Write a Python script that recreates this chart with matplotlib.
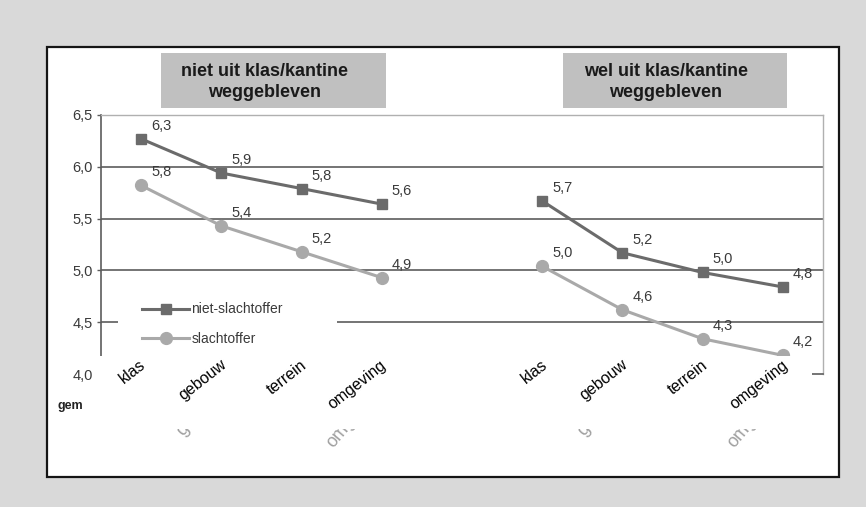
import numpy as np
import matplotlib
matplotlib.use('Agg')
import matplotlib.pyplot as plt
import matplotlib.patches as mpatches
import matplotlib.transforms as mtransforms
from matplotlib.ticker import FuncFormatter

plt.rcParams['font.family'] = ['Liberation Sans', 'DejaVu Sans']

W, H = 866, 507

CATEGORIES = ['klas', 'gebouw', 'terrein', 'omgeving']
GROUP_TITLES = ['niet uit klas/kantine\nweggebleven',
                'wel uit klas/kantine\nweggebleven']
SERIES_NAMES = ['niet-slachtoffer', 'slachtoffer']

# group 1: niet uit klas/kantine weggebleven
NIET_SLACHTOFFER_G1 = [6.27, 5.94, 5.79, 5.64]
SLACHTOFFER_G1      = [5.82, 5.43, 5.18, 4.93]
# group 2: wel uit klas/kantine weggebleven
NIET_SLACHTOFFER_G2 = [5.67, 5.17, 4.98, 4.84]
SLACHTOFFER_G2      = [5.04, 4.62, 4.34, 4.18]

Y_TICKS = [4.0, 4.5, 5.0, 5.5, 6.0, 6.5]
Y_LABEL = 'gem'

COL_NIET   = '#6b6b6b'
COL_SLACHT = '#a9a9a9'
GRID_C     = '#5c5c5c'
TEXT_C     = '#3a3a3a'


def fx(x):
    return x / W


def fy(y):
    return 1 - y / H


def comma(v):
    return f'{v:.1f}'.replace('.', ',')


fig = plt.figure(figsize=(W / 100, H / 100), dpi=100)
fig.patch.set_facecolor('#d9d9d9')

# white panel with dark border
fig.add_artist(mpatches.Rectangle((fx(47), fy(477)), fx(839) - fx(47), fy(47) - fy(477),
                                  transform=fig.transFigure, facecolor='white',
                                  edgecolor='#151515', linewidth=1.6, zorder=-5))

# grey title boxes (text sits a little left of centre, as in the scan)
for title, (x0, x1) in zip(GROUP_TITLES, [(161, 386), (563, 787)]):
    fig.add_artist(mpatches.Rectangle((fx(x0), fy(108)), fx(x1) - fx(x0), fy(53) - fy(108),
                                      transform=fig.transFigure, facecolor='#c0c0c0',
                                      edgecolor='none', zorder=-4))
    fig.text(fx((x0 + x1) / 2 - 9), fy(82), title, ha='center', va='center',
             fontsize=13, fontweight='bold', color='#1a1a1a', linespacing=1.3)

ax = fig.add_axes([fx(101), fy(374), fx(823) - fx(101), fy(115) - fy(374)])
ax.patch.set_visible(False)
ax.set_xlim(-0.5, 8.5)
ax.set_ylim(Y_TICKS[0], Y_TICKS[-1])

x_g1 = np.arange(len(CATEGORIES))
x_g2 = np.arange(len(CATEGORIES)) + len(CATEGORIES) + 1

# gridlines (top one is the light frame)
for y in Y_TICKS[1:-1]:
    ax.axhline(y, color=GRID_C, lw=1.2, zorder=1)

ln_niet = None
ln_sl = None
for xs, niet, sl in [(x_g1, NIET_SLACHTOFFER_G1, SLACHTOFFER_G1),
                     (x_g2, NIET_SLACHTOFFER_G2, SLACHTOFFER_G2)]:
    ln_niet, = ax.plot(xs, niet, color=COL_NIET, lw=2.2, marker='s', ms=7,
                       mfc=COL_NIET, mec=COL_NIET, zorder=3, clip_on=False)
    ln_sl, = ax.plot(xs, sl, color=COL_SLACHT, lw=2.2, marker='o', ms=8.5,
                     mfc=COL_SLACHT, mec=COL_SLACHT, zorder=3, clip_on=False)
    for x, v in list(zip(xs, niet)) + list(zip(xs, sl)):
        ax.annotate(comma(v), (x, v), xytext=(10, 13), textcoords='offset pixels',
                    ha='left', va='center', fontsize=10.5, color=TEXT_C, zorder=4)

# axes styling
ax.set_yticks(Y_TICKS)
ax.yaxis.set_major_formatter(FuncFormatter(lambda v, _: comma(v)))
ax.tick_params(axis='y', direction='out', length=3, width=1, color=GRID_C,
               labelsize=10.5, labelcolor=TEXT_C, pad=3)
ax.set_xticks([])
ax.spines['left'].set_color(GRID_C)
ax.spines['left'].set_linewidth(1.2)
ax.spines['bottom'].set_color(GRID_C)
ax.spines['bottom'].set_linewidth(1.2)
for s in ['top', 'right']:
    ax.spines[s].set_color('#b0b0b0')
    ax.spines[s].set_linewidth(1.0)

# legend with white backing box
ax.add_patch(mpatches.Rectangle((0.0235, 0.093), 0.3035, 0.224, transform=ax.transAxes,
                                facecolor='white', edgecolor='none', zorder=1.5))
ax.legend(handles=[ln_niet, ln_sl], labels=SERIES_NAMES, loc='center left',
          bbox_to_anchor=(0.0568, 0.193), frameon=False, fontsize=10,
          handlelength=3.4, handletextpad=0.15, labelspacing=1.1,
          borderpad=0, borderaxespad=0, labelcolor=TEXT_C)

blend = mtransforms.blended_transform_factory(ax.transData, ax.transAxes)
all_x = list(x_g1) + list(x_g2)

# faded original category labels (mostly hidden under the white strip)
faded = mtransforms.offset_copy(blend, fig=fig, x=-8, y=-6, units='dots')
for x, cat in zip(all_x, CATEGORIES * 2):
    ax.text(x, 0.0, cat, transform=faded, rotation=50, rotation_mode='anchor',
            ha='right', va='top', fontsize=13, color='#a0a0a0',
            zorder=0.5, clip_on=False)

# white strip over the old x labels
ax.add_patch(mpatches.Rectangle((-0.0055, -0.2124), 0.9903, 0.2819, transform=ax.transAxes,
                                facecolor='white', edgecolor='none', zorder=5, clip_on=False))

# crisp category labels
crisp = mtransforms.offset_copy(blend, fig=fig, x=3, y=0, units='dots')
for x, cat in zip(all_x, CATEGORIES * 2):
    ax.text(x, 0.0425, cat, transform=crisp, rotation=38, rotation_mode='anchor',
            ha='right', va='center', fontsize=11.5, color='black', zorder=6, clip_on=False)

fig.text(fx(58), fy(406), Y_LABEL, ha='left', va='center', fontsize=9,
         fontweight='bold', color='#222222')

fig.savefig('out.png', dpi=100)
